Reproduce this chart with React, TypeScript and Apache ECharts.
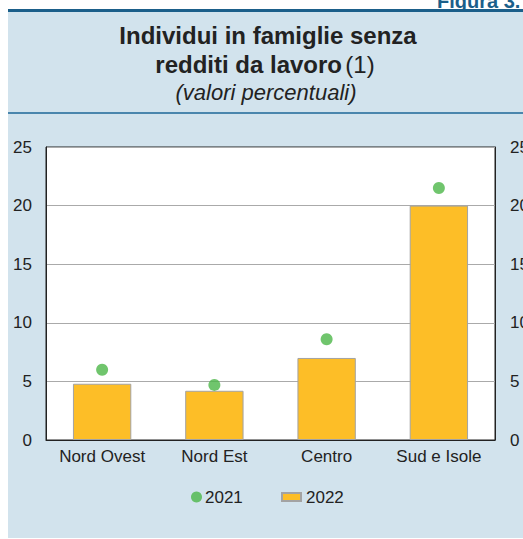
import React, { useEffect, useRef } from "react";
import * as echarts from "echarts";

const categories = ["Nord Ovest", "Nord Est", "Centro", "Sud e Isole"];
const values2021 = [6.0, 4.7, 8.6, 21.5];
const values2022 = [4.8, 4.2, 7.0, 20.0];
const yTicks = { min: 0, max: 25, interval: 5 };

const FONT = "Liberation Sans, Arial, sans-serif";

export default function App() {
  const ref = useRef<HTMLDivElement>(null);
  useEffect(() => {
    if (!ref.current) return;
    const chart = echarts.init(ref.current, null, { renderer: "svg" });
    const axisLabel = { color: "#222", fontSize: 17, fontFamily: FONT };
    chart.setOption({
      animation: false,
      textStyle: { fontFamily: FONT },
      graphic: [
        { type: "rect", z: -10, shape: { x: 8, y: 10, width: 515, height: 528 }, style: { fill: "#d2e3ed" } },
        { type: "rect", z: -9, shape: { x: 8, y: 9, width: 515, height: 3 }, style: { fill: "#1b5f8a" } },
        { type: "rect", z: -9, shape: { x: 8, y: 112, width: 515, height: 2 }, style: { fill: "#4a86ad" } },
        {
          type: "text", x: 437, y: 11,
          style: { text: "Figura 3.", fill: "#1b5f8a", font: `bold 20px ${FONT}`, verticalAlign: "bottom", align: "left" },
        },
        {
          type: "text", x: 268, y: 35,
          style: { text: "Individui in famiglie senza", fill: "#222", font: `bold 24px ${FONT}`, align: "center", verticalAlign: "middle" },
        },
        {
          type: "text", x: 265, y: 64,
          style: {
            text: "{b|redditi da lavoro} {n|(1)}", align: "center", verticalAlign: "middle",
            rich: {
              b: { fill: "#222", font: `bold 24px ${FONT}` },
              n: { fill: "#222", font: `24px ${FONT}` },
            },
          },
        },
        {
          type: "text", x: 266, y: 92,
          style: { text: "(valori percentuali)", fill: "#222", font: `italic 22px ${FONT}`, align: "center", verticalAlign: "middle" },
        },
      ],
      grid: {
        left: 46, right: 28, top: 147, bottom: 99,
        outerBoundsMode: "none", containLabel: false,
        show: true, backgroundColor: "#fff", borderColor: "#222", borderWidth: 1,
      },
      legend: [
        {
          data: ["2021"], left: 191, top: 487, padding: 0, icon: "circle", itemWidth: 11, itemHeight: 11, itemGap: 0,
          textStyle: { color: "#222", fontSize: 17, fontFamily: FONT, lineHeight: 20, padding: [0, 0, 0, -2] },
        },
        {
          data: ["2022"], left: 281, top: 487, padding: 0, icon: "rect", itemWidth: 19, itemHeight: 8, itemGap: 0,
          textStyle: { color: "#222", fontSize: 17, fontFamily: FONT, lineHeight: 20 },
        },
      ],
      xAxis: {
        type: "category", data: categories,
        axisLine: { show: true, lineStyle: { color: "#222" } },
        axisTick: { show: false },
        axisLabel: { ...axisLabel, margin: 8, interval: 0 },
      },
      yAxis: [
        {
          type: "value", ...yTicks, position: "left",
          axisLine: { show: true, lineStyle: { color: "#222" } },
          axisTick: { show: false },
          splitLine: { show: true, lineStyle: { color: "#aaa", width: 1 } },
          axisLabel: { ...axisLabel, margin: 14 },
        },
        {
          type: "value", ...yTicks, position: "right",
          axisLine: { show: true, lineStyle: { color: "#222" } },
          axisTick: { show: false },
          splitLine: { show: false },
          axisLabel: { ...axisLabel, margin: 15 },
        },
      ],
      series: [
        {
          name: "2022", type: "bar", data: values2022, barWidth: "52%", z: 2,
          itemStyle: { color: "#fdbe27", borderColor: "#a3a3a3", borderWidth: 1 },
        },
        {
          name: "2021", type: "scatter", data: values2021, symbol: "circle", symbolSize: 12, z: 3,
          itemStyle: { color: "#4cb748" },
        },
      ],
    });
    return () => chart.dispose();
  }, []);
  return <div ref={ref} style={{ position: "absolute", left: 0, top: 0, width: 523, height: 539, background: "#fff" }} />;
}
